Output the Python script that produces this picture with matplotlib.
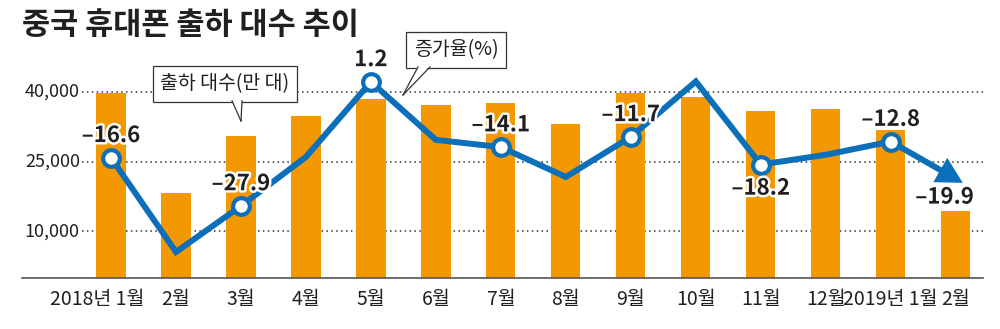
import matplotlib
matplotlib.use("Agg")
import numpy as np
import matplotlib.pyplot as plt
import matplotlib.patheffects as pe
from matplotlib.patches import Polygon
from matplotlib.lines import Line2D
from matplotlib.transforms import blended_transform_factory

plt.rcParams['font.family'] = ['Noto Sans CJK KR', 'DejaVu Sans']

# data
months = ['2018년 1월', '2월', '3월', '4월', '5월', '6월', '7월', '8월', '9월',
          '10월', '11월', '12월', '2019년 1월', '2월']
shipments = [39700, 18300, 30500, 34800, 38500, 37200, 37600, 33100, 39800,
             38900, 35900, 36300, 31800, 14400]   # 만 대
growth = [-16.6, -38.7, -27.9, -16.4, 1.2, -12.4, -14.1, -21.1, -11.7,
          1.3, -18.2, -15.9, -12.8, -19.9]        # %
labeled = [0, 2, 4, 6, 8, 10, 12]
yticks = [10000, 25000, 40000]

orange = '#f39800'
blue = '#0b6fba'
ink = '#231f20'

fig = plt.figure(figsize=(10, 3.29), dpi=100)
ax = fig.add_axes([0.022, 0.155, 0.961, 0.663])
x = list(range(len(months)))

ax.bar(x, shipments, width=0.45, color=orange, zorder=2)
ax.set_xlim(-1.37, 13.42)
ax.set_ylim(0, 46870)

for v in yticks:
    ax.hlines(v, -0.45, 13.42, colors='#333333', linestyles=(0, (1, 2.2)),
              linewidth=1.1, zorder=1)
    ax.text(-0.48, v, f'{v:,}', ha='right', va='center', fontsize=13,
            color=ink)

ax.set_yticks([])
ax.set_xticks([])
for s in ['top', 'right', 'left']:
    ax.spines[s].set_visible(False)
ax.spines['bottom'].set_color('#555555')
ax.spines['bottom'].set_linewidth(1.2)

# month labels (first one sits a bit left of its bar)
tr = blended_transform_factory(ax.transData, ax.transAxes)
for i, m in enumerate(months):
    xi = i - 0.215 if i == 0 else i
    ax.text(xi, -0.1, m, transform=tr, ha='center', va='center', fontsize=14,
            color=ink)

# growth line
ax2 = ax.twinx()
ax2.set_ylim(-44.8, 6.36)
ax2.axis('off')

tip = (x[-1] + 0.11, growth[-1] - 2.6)
p0 = ax2.transData.transform((x[-2], growth[-2]))
p1 = ax2.transData.transform(tip)
d = (p1 - p0) / np.hypot(*(p1 - p0))
nrm = np.array([-d[1], d[0]])
head_len, head_w = 26, 14
base = p1 - d * head_len
head = [p1, base + nrm * head_w, base - nrm * head_w]
to_fig = fig.transFigure.inverted()
head = to_fig.transform(np.array(head))
neck = ax2.transData.inverted().transform(base + d * 4)

ax2.plot(x[:-1] + [neck[0]], growth[:-1] + [neck[1]], color=blue, linewidth=4.3,
         zorder=3, solid_joinstyle='miter', solid_capstyle='butt')
fig.add_artist(Polygon(head, closed=True, fc=blue, ec='none', zorder=3,
                       transform=fig.transFigure))
ax2.plot(labeled, [growth[i] for i in labeled], 'o', ms=12, mfc='white', mec=blue,
         mew=3, zorder=4)

stroke = [pe.withStroke(linewidth=3.5, foreground='white')]
for i in labeled:
    dy = -17 if i == 10 else 16
    txt = f'{growth[i]:.1f}'.replace('-', '\u2013')
    ax2.annotate(txt, (x[i], growth[i]), xytext=(0, dy),
                 textcoords='offset points', ha='center', va='center',
                 fontsize=16, fontweight='bold', color=ink,
                 path_effects=stroke, zorder=6)
ax.annotate(f'{growth[-1]:.1f}'.replace('-', '\u2013'), (x[-1] - 0.17, shipments[-1]),
            xytext=(0, 10), textcoords='offset points', ha='center', va='center',
            fontsize=16, fontweight='bold', color=ink, path_effects=stroke, zorder=6)

# title
fig.text(0.022, 0.925, '중국 휴대폰 출하 대수 추이', fontsize=22, fontweight='black',
         color=ink, va='center')


# callouts
def callout(txt, cx, cy, tip, w, h):
    fig.text(cx, cy, txt, ha='center', va='center', fontsize=14,
             color=ink, zorder=10,
             bbox=dict(boxstyle='square,pad=0.4', fc='white', ec='#333333', lw=0.9))
    by = cy - h / 2
    bx = tip[2]
    tri = [(bx - w, by + 0.004), (bx + w, by + 0.004), (tip[0], tip[1])]
    fig.add_artist(Polygon(tri, closed=True, fc='white', ec='none', zorder=11,
                           transform=fig.transFigure))
    for px in (bx - w, bx + w):
        fig.add_artist(Line2D([px, tip[0]], [by, tip[1]], color='#333333', lw=0.9,
                              zorder=12, transform=fig.transFigure))


callout('출하 대수(만 대)', 0.225, 0.745, (0.241, 1 - 121 / 329, 0.237), 0.005, 0.103)
callout('증가율(%)', 0.456, 0.848, (0.403, 1 - 95 / 329, 0.424), 0.006, 0.103)

fig.savefig('out.png', dpi=100)
